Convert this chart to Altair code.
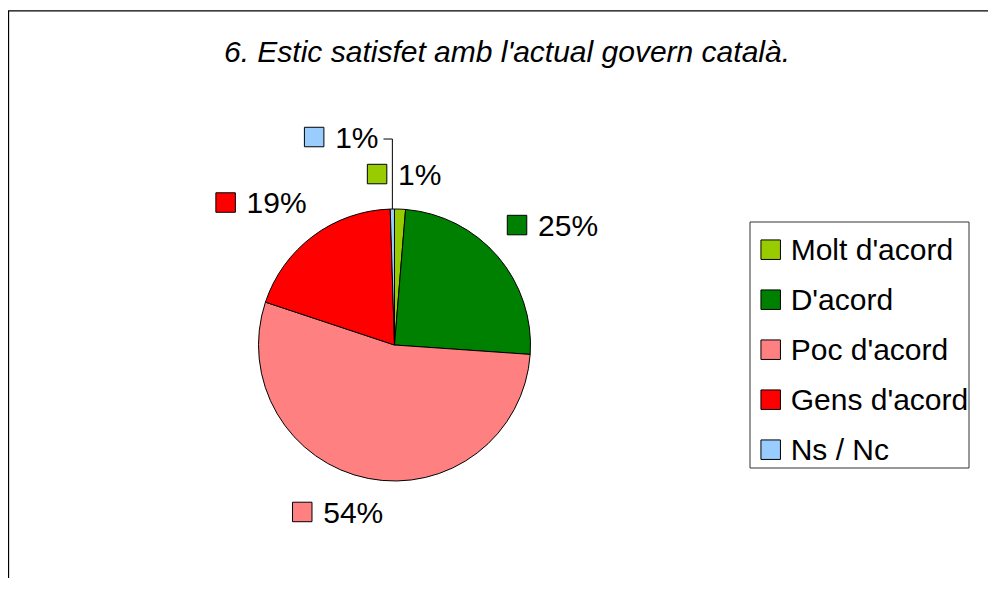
import altair as alt
import pandas as pd

# ---------------- data ----------------
categories = ["Molt d'acord", "D'acord", "Poc d'acord", "Gens d'acord", "Ns / Nc"]
values = [1.3, 24.8, 54.0, 19.4, 0.5]
pct_labels = ["1%", "25%", "54%", "19%", "1%"]
colors = ["#99CC00", "#008000", "#FF8080", "#FF0000", "#99CCFF"]
title_text = "6. Estic satisfet amb l'actual govern català."

# ---------------- layout ----------------
W, H = 980, 570
CX, CY, R = 386.5, 337, 136          # pie centre / radius (px)
LABEL_D = 165                         # distance of label anchor from centre
FS = 30                               # font size labels / legend
BOX_H = 23
# manual drags of the data labels (as in the original sheet)
nudge_x = [1.5, -1.6, -16, -7.5, -50]
nudge_y = [5.4, -4.9, -6.2, -1, -31.5]
leader_idx = [4]
LEG_X0, LEG_Y0, LEG_STEP = 762.7, 241.7, 50
FONT = "Liberation Sans"

df = pd.DataFrame({"idx": list(range(len(categories))), "cat": categories,
                   "value": values, "label": pct_labels})

xs = alt.Scale(domain=[0, W], range=[0, W], nice=False, zero=False)
ys = alt.Scale(domain=[0, H], range=[0, H], nice=False, zero=False)
color = alt.Color("cat:N", scale=alt.Scale(domain=categories, range=colors), legend=None)

one = alt.Data(values=[{"t": title_text}])

frame = alt.Chart(one).mark_rect(filled=False, stroke="black", strokeWidth=1.3).encode(
    x=alt.value(0.5), x2=alt.value(W + 50), y=alt.value(2.8), y2=alt.value(H + 50))

title = alt.Chart(one).mark_text(font=FONT, fontSize=30, fontStyle="italic", align="center",
                                 baseline="alphabetic", color="black").encode(
    x=alt.value(499), y=alt.value(53.7), text="t:N")

pie = alt.Chart(df).mark_arc(outerRadius=R, stroke="black", strokeWidth=1).encode(
    theta=alt.Theta("value:Q", stack=True),
    order=alt.Order("idx:Q"),
    color=color,
    x=alt.value(CX), y=alt.value(CY))

lab = alt.Chart(df).transform_joinaggregate(total="sum(value)").transform_window(
    cum="sum(value)", sort=[alt.SortField("idx", order="ascending")], frame=[None, 0]
).transform_calculate(
    mid="(datum.cum - datum.value / 2) / datum.total * 2 * PI"
).transform_calculate(
    sa="sin(datum.mid)", ca="cos(datum.mid)"
).transform_calculate(
    bw=f"31 + (length(datum.label) - 1) * {FS * 0.556} + {FS * 0.889}"
).transform_calculate(
    left=f"{CX} + {LABEL_D} * datum.sa - (0.5 - 0.5 * datum.sa) * datum.bw + {nudge_x}[datum.idx]",
    cy=f"{CY} - {LABEL_D} * datum.ca - 0.5 * datum.ca * {BOX_H} + {nudge_y}[datum.idx]",
    ex=f"{CX} + {R} * datum.sa", ey=f"{CY} - {R} * datum.ca"
).transform_calculate(
    sqx="datum.left + 10", tx="datum.left + 31", ty=f"datum.cy + {FS * 0.355}",
    lend="datum.left + datum.bw + 5", ly="datum.cy + 2"
)

lab_sq = lab.mark_square(size=380, stroke="black", strokeWidth=1, opacity=1).encode(
    x=alt.X("sqx:Q", scale=xs, axis=None), y=alt.Y("cy:Q", scale=ys, axis=None), color=color)

lab_txt = lab.mark_text(font=FONT, fontSize=FS, align="left", baseline="alphabetic",
                        color="black").encode(
    x=alt.X("tx:Q", scale=xs, axis=None), y=alt.Y("ty:Q", scale=ys, axis=None), text="label:N")

lead = lab.transform_filter(f"indexof({leader_idx}, datum.idx) >= 0")
lead_h = lead.mark_rule(color="black", strokeWidth=1).encode(
    x=alt.X("lend:Q", scale=xs, axis=None), x2="ex:Q", y=alt.Y("ly:Q", scale=ys, axis=None))
lead_v = lead.mark_rule(color="black", strokeWidth=1).encode(
    x=alt.X("ex:Q", scale=xs, axis=None), y=alt.Y("ly:Q", scale=ys, axis=None), y2="ey:Q")

leg_box = alt.Chart(one).mark_rect(fill="white", stroke="#333333", strokeWidth=1).encode(
    x=alt.value(742), x2=alt.value(961), y=alt.value(214), y2=alt.value(460))

leg = alt.Chart(df).transform_calculate(
    gy=f"{LEG_Y0} + datum.idx * {LEG_STEP}"
).transform_calculate(gty=f"datum.gy + {FS * 0.355}")

leg_sq = leg.mark_square(size=380, stroke="black", strokeWidth=1, opacity=1).encode(
    x=alt.value(LEG_X0), y=alt.Y("gy:Q", scale=ys, axis=None), color=color)
leg_txt = leg.mark_text(font=FONT, fontSize=FS, align="left", baseline="alphabetic",
                        color="black").encode(
    x=alt.value(LEG_X0 + 20), y=alt.Y("gty:Q", scale=ys, axis=None), text="cat:N")

chart = alt.layer(frame, title, pie, lead_h, lead_v, lab_sq, lab_txt,
                  leg_box, leg_sq, leg_txt).properties(
    width=W, height=H, padding=0, autosize=alt.AutoSizeParams(type="none"),
    background="white"
).configure_view(stroke=None)

chart.save("out.html", embed_options={"renderer": "svg", "actions": False})
